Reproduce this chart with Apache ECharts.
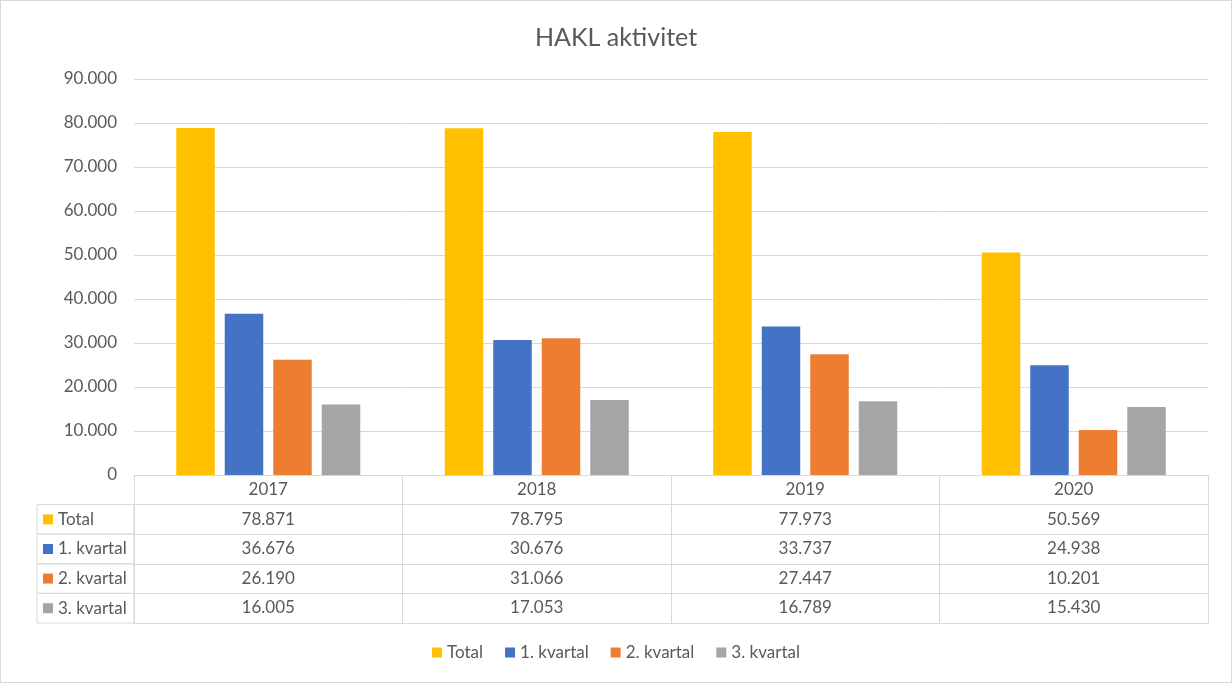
<!DOCTYPE html>
<html>
<head>
<meta charset="utf-8">
<script src="https://cdn.jsdelivr.net/npm/echarts@6/dist/echarts.min.js"></script>
<style>
  body { margin: 0; background: #fff; }
  #wrap { position: relative; width: 1232px; height: 683px; }
  #chart { width: 1232px; height: 683px; }
  #frame { position: absolute; left: 0; top: 0; width: 1230px; height: 681px; border: 1px solid #d9d9d9; pointer-events: none; }
</style>
</head>
<body>
<div id="wrap"><div id="chart"></div><div id="frame"></div></div>
<script>
// data
var years = ['2017', '2018', '2019', '2020'];
var seriesNames = ['Total', '1. kvartal', '2. kvartal', '3. kvartal'];
var total = [78871, 78795, 77973, 50569];
var kvartal1 = [36676, 30676, 33737, 24938];
var kvartal2 = [26190, 31066, 27447, 10201];
var kvartal3 = [16005, 17053, 16789, 15430];
var colors = ['#FFC000', '#4472C4', '#ED7D31', '#A5A5A5'];

var values = [total, kvartal1, kvartal2, kvartal3];
var font = 'Lato';
var textColor = '#595959';
var lineColor = '#d9d9d9';
var rowH = 29.6;

// tusenskille med punktum
function fmt(v) {
    return String(v).replace(/\B(?=(\d{3})+(?!\d))/g, '.');
}

var chart = echarts.init(document.getElementById('chart'));

// tabellrader = egne x-akser under grid
var xAxes = [];
for (var r = 0; r <= 5; r++) {
    var ax = {
        type: 'category',
        gridIndex: 0,
        position: 'bottom',
        offset: r * rowH,
        boundaryGap: true,
        data: r == 0 || r == 5 ? years : values[r - 1].map(fmt),
        axisLine: { show: true, lineStyle: { color: lineColor, width: 1 } },
        axisTick: { show: r < 5, length: rowH, interval: 0, lineStyle: { color: lineColor, width: 1 } },
        axisLabel: { show: r < 5, interval: 0, margin: 6, fontFamily: font, fontSize: 17, color: textColor },
        splitLine: { show: false }
    };
    if (r >= 1 && r <= 4) {
        ax.name = '{sq|}{t|' + seriesNames[r - 1] + '}';
        ax.nameLocation = 'start';
        ax.nameGap = 0;
        ax.nameMoveOverlap = false;
        ax.nameTextStyle = {
            align: 'right',
            verticalAlign: 'top',
            padding: [0, 0, 0, 6],
            borderColor: lineColor,
            borderWidth: 1,
            rich: {
                sq: { width: 10, height: 10, lineHeight: rowH, backgroundColor: colors[r - 1], align: 'left' },
                t: { width: 76, fontFamily: font, fontSize: 17, color: textColor, lineHeight: rowH, align: 'left', padding: [0, 0, 0, 5] }
            }
        };
    }
    xAxes.push(ax);
}

var series = [];
for (var i = 0; i < seriesNames.length; i++) {
    series.push({
        name: seriesNames[i],
        type: 'bar',
        xAxisIndex: 0,
        yAxisIndex: 0,
        barWidth: 38.5,
        barGap: '26%',
        data: values[i],
        itemStyle: { color: colors[i] }
    });
}

var option = {
    animation: false,
    textStyle: { fontFamily: font },
    title: {
        text: 'HAKL aktivitet',
        left: 'center',
        top: 20,
        textStyle: { fontFamily: font, fontSize: 25, fontWeight: 'normal', color: textColor }
    },
    legend: {
        bottom: 17,
        left: 'center',
        icon: 'rect',
        itemWidth: 10,
        itemHeight: 10,
        itemGap: 22,
        data: seriesNames,
        textStyle: { fontFamily: font, fontSize: 17, color: textColor }
    },
    grid: {
        left: 134,
        right: 24,
        top: 79,
        bottom: 208,
        containLabel: false,
        outerBoundsMode: 'none'
    },
    xAxis: xAxes,
    yAxis: {
        type: 'value',
        min: 0,
        max: 90000,
        interval: 10000,
        axisLine: { show: false },
        axisTick: { show: false },
        axisLabel: {
            margin: 17,
            fontFamily: font,
            fontSize: 17,
            color: textColor,
            formatter: function (v) { return fmt(v); }
        },
        splitLine: { lineStyle: { color: lineColor, width: 1 } }
    },
    series: series
};

chart.setOption(option);
</script>
</body>
</html>
